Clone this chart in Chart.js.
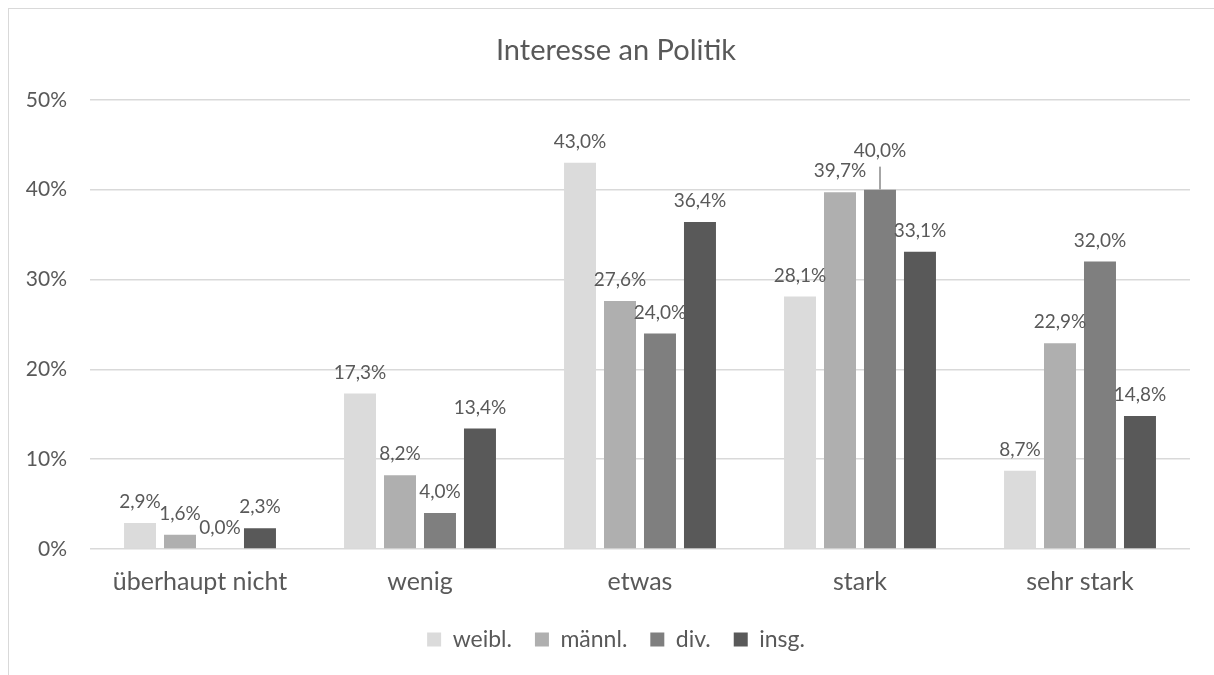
<!DOCTYPE html>
<html>
<head>
<meta charset="utf-8">
<script src="https://cdn.jsdelivr.net/npm/chart.js@4"></script>
<style>
    html, body { margin: 0; padding: 0; background: #fff; overflow: hidden; }
    #frame { position: absolute; left: 8px; top: 8px; width: 1240px; height: 700px; border: 1px solid #d9d9d9; box-sizing: border-box; }
    #wrap { position: absolute; left: 0; top: 0; width: 1214px; height: 675px; }
</style>
</head>
<body>
<div id="frame"></div>
<div id="wrap"><canvas id="chart"></canvas></div>
<script>
const categories = ["überhaupt nicht", "wenig", "etwas", "stark", "sehr stark"];
const seriesNames = ["weibl.", "männl.", "div.", "insg."];
const weibl = [2.9, 17.3, 43.0, 28.1, 8.7];
const maennl = [1.6, 8.2, 27.6, 39.7, 22.9];
const divers = [0.0, 4.0, 24.0, 40.0, 32.0];
const insg = [2.3, 13.4, 36.4, 33.1, 14.8];
const yMax = 50;
const yStep = 10;

const colors = ["#dbdbdb", "#afafaf", "#7f7f7f", "#595959"];
const textColor = "#595959";
const fontFamily = "Lato, 'Open Sans', sans-serif";

// label of div./stark sits higher with a leader line
const liftedLabels = { "2-3": 18 };

const valueLabels = {
    id: "valueLabels",
    afterDatasetsDraw(chart) {
        const ctx = chart.ctx;
        ctx.save();
        ctx.font = "19px " + fontFamily;
        ctx.fillStyle = textColor;
        ctx.textAlign = "center";
        ctx.textBaseline = "middle";
        chart.data.datasets.forEach((ds, i) => {
            chart.getDatasetMeta(i).data.forEach((bar, j) => {
                const text = ds.data[j].toFixed(1).replace(".", ",") + "%";
                const lift = liftedLabels[i + "-" + j] || 0;
                const y = bar.y - 21 - lift;
                if (lift) {
                    ctx.strokeStyle = "#a6a6a6";
                    ctx.lineWidth = 2;
                    ctx.beginPath();
                    ctx.moveTo(bar.x, bar.y);
                    ctx.lineTo(bar.x, y + 16);
                    ctx.stroke();
                }
                ctx.fillText(text, bar.x, y);
            });
        });
        ctx.restore();
    }
};

// title and legend are centred on the whole (wider) chart frame, not the plot
const shiftHeader = {
    id: "shiftHeader",
    afterLayout(chart) {
        for (const box of [chart.titleBlock, chart.legend]) {
            box.left += 21;
            box.right += 21;
        }
    }
};

const seriesValues = [weibl, maennl, divers, insg];
const datasets = seriesNames.map((name, i) => ({
    label: name,
    data: seriesValues[i],
    backgroundColor: colors[i],
    categoryPercentage: 0.727,
    barPercentage: 0.8,
}));

const ctx = document.getElementById("chart").getContext("2d");
const chart = new Chart(ctx, {
    type: "bar",
    data: { labels: categories, datasets: datasets },
    options: {
        responsive: true,
        maintainAspectRatio: false,
        animation: false,
        layout: { padding: { left: 0, right: 24, top: 0, bottom: 14 } },
        plugins: {
            title: {
                display: true,
                text: "Interesse an Politik",
                color: textColor,
                font: { family: fontFamily, size: 29, weight: "normal" },
                padding: { top: 33, bottom: 32 },
            },
            legend: {
                position: "bottom",
                labels: {
                    boxWidth: 14,
                    boxHeight: 14,
                    padding: 23,
                    color: textColor,
                    font: { family: fontFamily, size: 23 },
                },
            },
            tooltip: { enabled: false },
        },
        scales: {
            x: {
                afterFit: (scale) => { scale.height = 56; },
                grid: { display: false, drawTicks: false },
                border: { display: false },
                ticks: {
                    color: textColor,
                    padding: 18,
                    font: { family: fontFamily, size: 25 },
                },
            },
            y: {
                min: 0,
                max: yMax,
                afterFit: (scale) => { scale.width = 90; },
                grid: { color: "#d9d9d9", lineWidth: 1.5, drawTicks: false },
                border: { display: false },
                ticks: {
                    stepSize: yStep,
                    color: textColor,
                    padding: 23,
                    font: { family: fontFamily, size: 21 },
                    callback: (v) => v + "%",
                },
            },
        },
    },
    plugins: [valueLabels, shiftHeader],
});
</script>
</body>
</html>
